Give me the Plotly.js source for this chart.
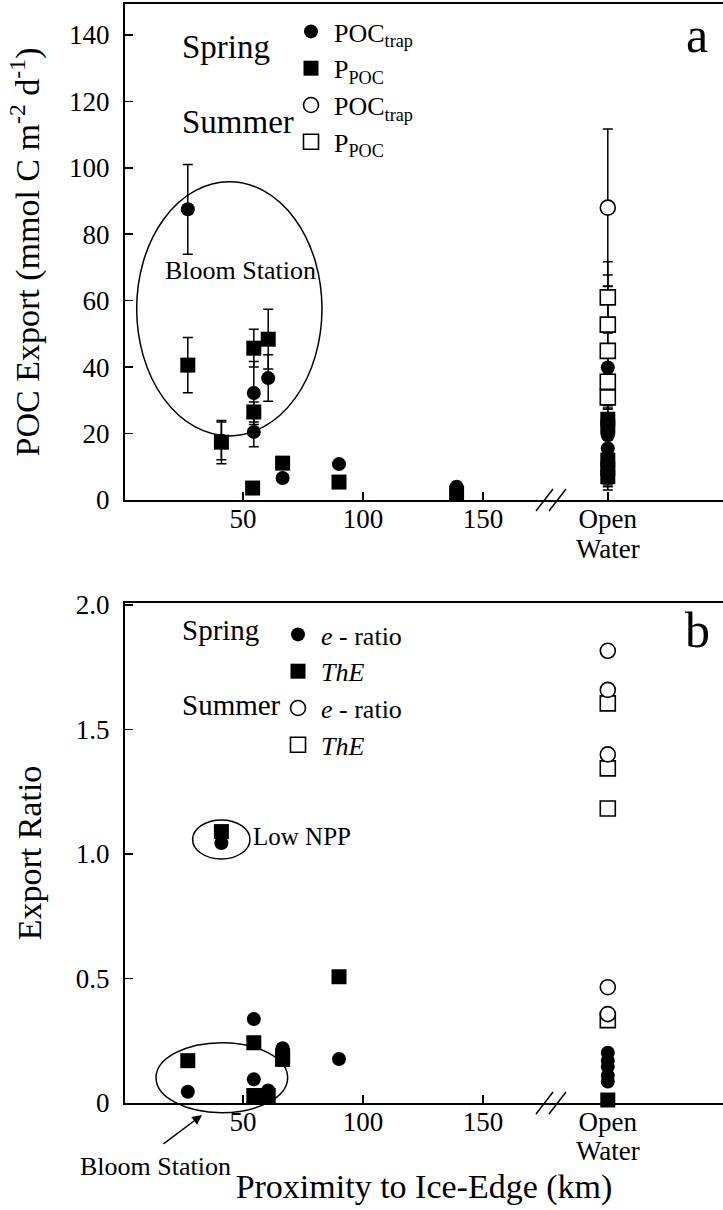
<!DOCTYPE html>
<html>
<head>
<meta charset="utf-8">
<script src="https://cdn.plot.ly/plotly-3.0.1.min.js"></script>
<style>html,body{margin:0;padding:0;background:#fff;}#chart{width:723px;height:1210px;}</style>
</head>
<body>
<div id="chart"></div>
<script>
// ---- data ----
const OPEN_WATER = 202; // axis position used for the "Open Water" group
const xTickVals = [50, 100, 150, OPEN_WATER];
const xTickText = ['50', '100', '150', 'Open'];
const openWaterSecondLine = 'Water';
const yTickValsA = [0, 20, 40, 60, 80, 100, 120, 140];
const yTickValsB = [0, 0.5, 1.0, 1.5, 2.0];
const yTickTextB = ['0', '0.5', '1.0', '1.5', '2.0'];

// Panel a: POC export (mmol C m-2 d-1)
const springTrapX = [27, 41, 54.5, 54.5, 60.5, 66.5, 90, 139, OPEN_WATER, OPEN_WATER, OPEN_WATER];
const springTrapY = [87.5, 17.8, 32.2, 20.5, 36.7, 6.6, 10.8, 4.0, 39.9, 19.5, 15.5];
const springTrapErr = [13.5, 5.7, 9.5, 4.5, 7.0, 0, 0, 0, 0, 0, 0];

const springPpocX = [27, 41, 54.5, 54.5, 54, 60.5, 66.5, 90, 139, OPEN_WATER, OPEN_WATER, OPEN_WATER, OPEN_WATER, OPEN_WATER];
const springPpocY = [40.6, 17.4, 45.7, 26.5, 3.6, 48.4, 11.1, 5.4, 2.1, 24.3, 22.0, 12.0, 9.5, 7.0];
const springPpocErr = [8.3, 6.5, 5.7, 3.0, 0, 9.0, 0, 0, 0, 3.0, 3.0, 7.5, 6.5, 3.0];

const summerTrapX = [OPEN_WATER];
const summerTrapY = [88.0];
const summerTrapErr = [23.7];

const summerPpocX = [OPEN_WATER, OPEN_WATER, OPEN_WATER, OPEN_WATER, OPEN_WATER];
const summerPpocY = [61.0, 52.8, 44.9, 35.6, 30.9];
const summerPpocErr = [10.7, 14.9, 19.5, 7.2, 3.2];

// Panel b: export ratios
const springEX = [27, 41, 54.5, 54.5, 60.5, 66.5, 66.5, 90, OPEN_WATER, OPEN_WATER, OPEN_WATER, OPEN_WATER, OPEN_WATER];
const springEY = [0.045, 1.044, 0.337, 0.095, 0.05, 0.22, 0.20, 0.177, 0.202, 0.17, 0.146, 0.11, 0.086];

const springThEX = [27, 41, 54.5, 54.5, 60.5, 66.5, 66.5, 90, OPEN_WATER];
const springThEY = [0.17, 1.09, 0.242, 0.03, 0.03, 0.19, 0.175, 0.507, 0.012];

const summerEX = [OPEN_WATER, OPEN_WATER, OPEN_WATER, OPEN_WATER, OPEN_WATER];
const summerEY = [1.816, 1.659, 1.40, 0.465, 0.357];

const summerThEX = [OPEN_WATER, OPEN_WATER, OPEN_WATER, OPEN_WATER];
const summerThEY = [1.605, 1.344, 1.183, 0.333];

// ---- styling ----
const FONT = 'Liberation Serif';
const W = 723, H = 1210;
const px = v => v / W;
const py = v => 1 - v / H;

const filledCircle = {symbol: 'circle', size: 14, color: 'black', line: {width: 0}};
const filledSquare = {symbol: 'square', size: 15, color: 'black', line: {width: 0}};
const openCircle = {symbol: 'circle', size: 15, color: 'white', line: {color: 'black', width: 1.6}};
const openSquare = {symbol: 'square', size: 15, color: 'white', line: {color: 'black', width: 1.6}};
const errStyle = arr => ({type: 'data', array: arr, visible: true, color: 'black', thickness: 1.5, width: 5});

const traces = [
  // panel a (summer drawn first so spring sits on top)
  {x: summerPpocX, y: summerPpocY, error_y: errStyle(summerPpocErr), mode: 'markers', marker: openSquare,
   name: 'P<sub>POC</sub>', legend: 'legend', legendrank: 4, xaxis: 'x', yaxis: 'y', cliponaxis: false},
  {x: summerTrapX, y: summerTrapY, error_y: errStyle(summerTrapErr), mode: 'markers', marker: openCircle,
   name: 'POC<sub>trap</sub>', legend: 'legend', legendrank: 3, xaxis: 'x', yaxis: 'y', cliponaxis: false},
  {x: springPpocX, y: springPpocY, error_y: errStyle(springPpocErr), mode: 'markers', marker: filledSquare,
   name: 'P<sub>POC</sub>', legend: 'legend', legendrank: 2, xaxis: 'x', yaxis: 'y', cliponaxis: false},
  {x: springTrapX, y: springTrapY, error_y: errStyle(springTrapErr), mode: 'markers', marker: filledCircle,
   name: 'POC<sub>trap</sub>', legend: 'legend', legendrank: 1, xaxis: 'x', yaxis: 'y', cliponaxis: false},
  // panel b
  {x: summerThEX, y: summerThEY, mode: 'markers', marker: openSquare,
   name: '<i>ThE</i>', legend: 'legend2', legendrank: 4, xaxis: 'x2', yaxis: 'y2', cliponaxis: false},
  {x: summerEX, y: summerEY, mode: 'markers', marker: openCircle,
   name: '<i>e</i> - ratio', legend: 'legend2', legendrank: 3, xaxis: 'x2', yaxis: 'y2', cliponaxis: false},
  {x: springThEX, y: springThEY, mode: 'markers', marker: filledSquare,
   name: '<i>ThE</i>', legend: 'legend2', legendrank: 2, xaxis: 'x2', yaxis: 'y2', cliponaxis: false},
  {x: springEX, y: springEY, mode: 'markers', marker: filledCircle,
   name: '<i>e</i> - ratio', legend: 'legend2', legendrank: 1, xaxis: 'x2', yaxis: 'y2', cliponaxis: false}
];

const xAxisBase = {
  domain: [px(125), 1], range: [0.83, 250],
  tickmode: 'array', tickvals: xTickVals, ticktext: xTickText,
  ticks: 'inside', ticklen: 8, tickwidth: 1.5, tickcolor: 'black',
  showline: true, linecolor: 'black', linewidth: 2, mirror: true,
  showgrid: false, zeroline: false, ticklabelstandoff: -6,
  tickfont: {family: FONT, size: 27, color: 'black'}
};
const yAxisBase = {
  ticks: 'inside', ticklen: 8, tickwidth: 1.5, tickcolor: 'black',
  showline: true, linecolor: 'black', linewidth: 2,
  showgrid: false, zeroline: false, ticklabelstandoff: 8,
  tickfont: {family: FONT, size: 27, color: 'black'}
};

const legendBase = {
  bgcolor: 'rgba(0,0,0,0)', borderwidth: 0, itemwidth: 36,
  xanchor: 'left', yanchor: 'top', traceorder: 'normal', itemsizing: 'trace'
};

const line = (x0, y0, x1, y1) => ({type: 'line', xref: 'paper', yref: 'paper',
  x0: px(x0), y0: py(y0), x1: px(x1), y1: py(y1), line: {color: 'black', width: 1.5}});
const txt = (x, y, text, size, anchor) => ({xref: 'paper', yref: 'paper', x: px(x), y: py(y), text: text,
  showarrow: false, xanchor: anchor || 'left', yanchor: 'middle', font: {family: FONT, size: size, color: 'black'}});

const layout = {
  width: W, height: H,
  margin: {l: 0, r: 0, t: 0, b: 0},
  paper_bgcolor: 'white', plot_bgcolor: 'white',
  font: {family: FONT, color: 'black'},
  showlegend: true,
  legend: Object.assign({}, legendBase, {x: px(288), y: py(8), font: {family: FONT, size: 26, color: 'black'}}),
  legend2: Object.assign({}, legendBase, {x: px(275), y: py(611), font: {family: FONT, size: 26, color: 'black'}}),
  xaxis: Object.assign({}, xAxisBase, {anchor: 'y'}),
  yaxis: Object.assign({}, yAxisBase, {
    anchor: 'x', domain: [py(500), py(4)], range: [0, 149.3],
    tickmode: 'array', tickvals: yTickValsA,
    title: {text: 'POC Export (mmol C m<sup>-2</sup> d<sup>-1</sup>)', font: {family: FONT, size: 34, color: 'black'}, standoff: 19}
  }),
  xaxis2: Object.assign({}, xAxisBase, {anchor: 'y2',
    title: {text: 'Proximity to Ice-Edge (km)', font: {family: FONT, size: 34, color: 'black'}, standoff: 38}}),
  yaxis2: Object.assign({}, yAxisBase, {
    anchor: 'x2', domain: [py(1103), py(603)], range: [0, 2.008],
    tickmode: 'array', tickvals: yTickValsB, ticktext: yTickTextB,
    title: {text: 'Export Ratio', font: {family: FONT, size: 34, color: 'black'}, standoff: 24}
  }),
  shapes: [
    // Bloom Station ellipse (panel a)
    {type: 'circle', xref: 'x', yref: 'y', x0: 5.7, x1: 82.9, y0: 19.3, y1: 95.8, line: {color: 'black', width: 1.5}},
    // Low NPP ellipse (panel b)
    {type: 'circle', xref: 'x2', yref: 'y2', x0: 29.0, x1: 52.9, y0: 0.98, y1: 1.137, line: {color: 'black', width: 1.5}},
    // Bloom Station ellipse (panel b), extends below the axis
    {type: 'circle', xref: 'x2', yref: 'y2 domain', x0: 13.75, x1: 68.6, y0: -0.0194, y1: 0.1206, line: {color: 'black', width: 1.5}},
    // axis breaks
    line(536, 511, 553, 489), line(549, 511, 566, 489),
    line(536, 1114, 553, 1092), line(549, 1114, 566, 1092)
  ],
  annotations: [
    txt(180, 47, 'Spring', 33), txt(180, 122, 'Summer', 33),
    txt(180, 630, 'Spring', 29), txt(180, 705, 'Summer', 29),
    txt(697, 35, 'a', 50, 'center'), txt(697, 630, 'b', 50, 'center'),
    {xref: 'x', yref: 'y', x: 49, y: 69, text: 'Bloom Station', showarrow: false, xanchor: 'center', yanchor: 'middle', font: {family: FONT, size: 26, color: 'black'}},
    {xref: 'x2', yref: 'y2', x: 53.5, y: 1.07, text: 'Low NPP', showarrow: false, xanchor: 'left', yanchor: 'middle', font: {family: FONT, size: 25, color: 'black'}},
    // second line of the "Open Water" tick label
    {xref: 'x', yref: 'paper', x: OPEN_WATER, y: py(549), text: openWaterSecondLine, showarrow: false, xanchor: 'center', yanchor: 'middle', font: {family: FONT, size: 27, color: 'black'}},
    {xref: 'x2', yref: 'paper', x: OPEN_WATER, y: py(1151), text: openWaterSecondLine, showarrow: false, xanchor: 'center', yanchor: 'middle', font: {family: FONT, size: 27, color: 'black'}},
    txt(233, 1166, 'Bloom Station', 26, 'right'),
    {xref: 'paper', yref: 'paper', x: px(202), y: py(1115), ax: -40, ay: 30, text: '', showarrow: true,
     arrowhead: 2, arrowsize: 1.3, arrowwidth: 1.5, arrowcolor: 'black', standoff: 0}
  ]
};

Plotly.newPlot('chart', traces, layout, {staticPlot: true, displayModeBar: false});
</script>
</body>
</html>
